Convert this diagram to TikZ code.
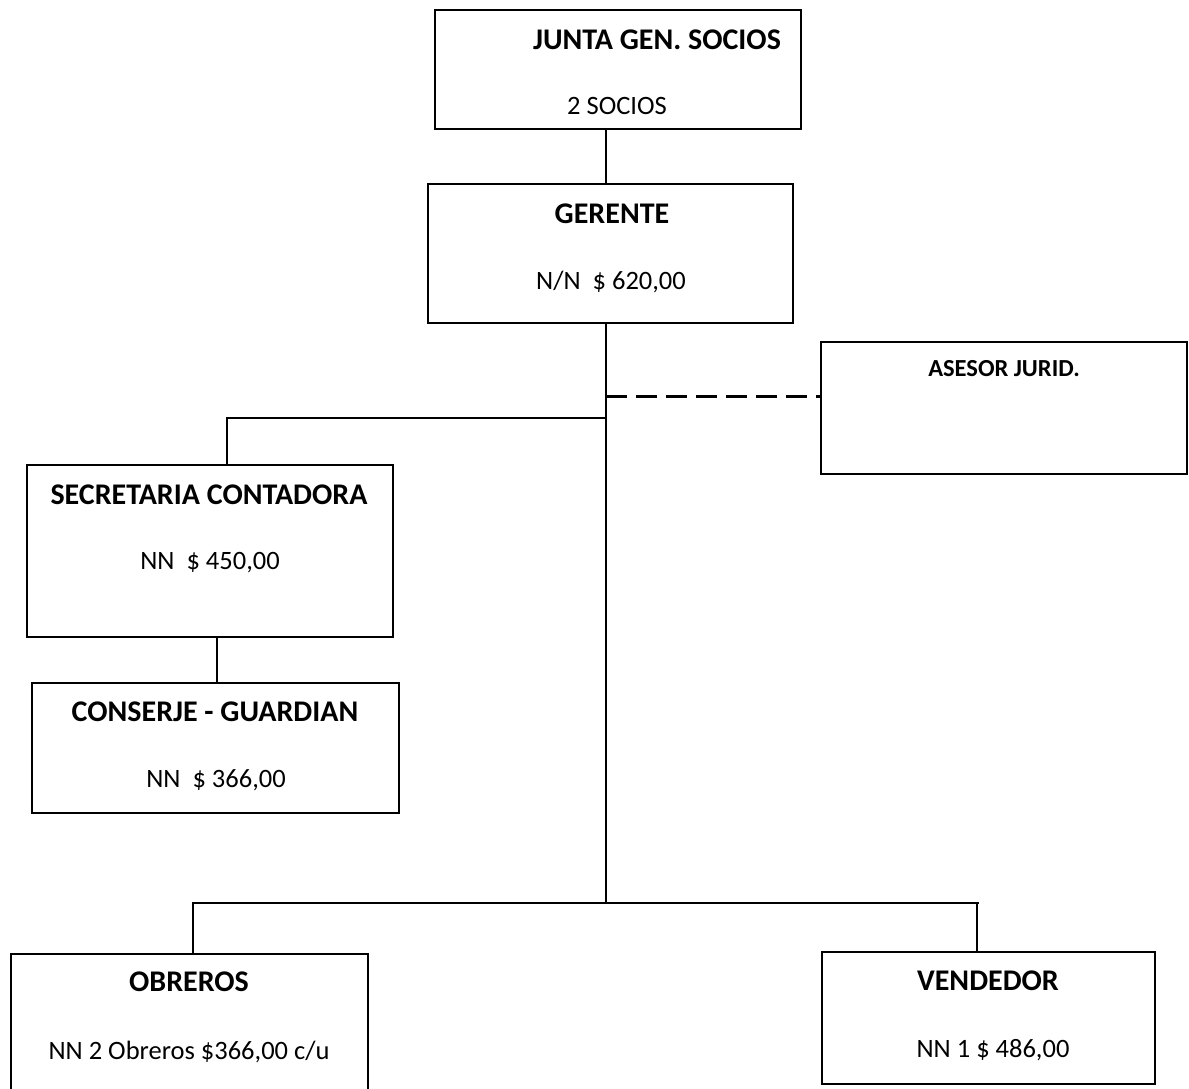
\documentclass[tikz,border=0pt]{standalone}
\usepackage{fontspec}
\setmainfont{Carlito}
\begin{document}
\begin{tikzpicture}[x=1pt,y=-1pt,
  box/.style={draw=black,line width=2.4pt,rectangle,inner sep=0pt},
  conn/.style={draw=black,line width=1.7pt},
  dashconn/.style={draw=black,line width=3pt,dash pattern=on 21pt off 9pt},
  ttl/.style={font=\fontsize{30}{34}\selectfont\bfseries,anchor=base,inner sep=0pt},
  txt/.style={font=\fontsize{26.5}{30}\selectfont,anchor=base,inner sep=0pt},
  sttl/.style={font=\fontsize{24.5}{28}\selectfont\bfseries,anchor=base,inner sep=0pt}]
\useasboundingbox (0,0) rectangle (1189,1088);
\clip (0,0) rectangle (1189,1088);
\fill[white] (0,0) rectangle (1189,1088);
% boxes
\node[box,minimum width=366pt,minimum height=119pt] (junta) at (618,69.5) {};
\node[box,minimum width=365pt,minimum height=139pt] (gerente) at (610.5,253.5) {};
\node[box,minimum width=366pt,minimum height=132pt] (asesor) at (1004,408) {};
\node[box,minimum width=366pt,minimum height=172pt] (secre) at (210,551) {};
\node[box,minimum width=367pt,minimum height=130pt] (conserje) at (215.5,748) {};
\node[box,minimum width=357pt,minimum height=146pt] (obreros) at (189.5,1027) {};
\node[box,minimum width=333pt,minimum height=132pt] (vendedor) at (988.5,1018) {};
% texts
\node[ttl] (t1) at (657,49) {JUNTA GEN. SOCIOS};
\node[txt] (t1b) at (617,114) {2 SOCIOS};
\node[ttl] (t2) at (612,223) {GERENTE};
\node[txt] (t2b) at (611,289) {N/N\ \ \$ 620,00};
\node[sttl] (t3) at (1004,376) {ASESOR JURID.};
\node[ttl] (t4) at (209,504) {SECRETARIA CONTADORA};
\node[txt] (t4b) at (210,569) {NN\ \ \$ 450,00};
\node[ttl] (t5) at (215,721) {CONSERJE - GUARDIAN};
\node[txt] (t5b) at (216,787) {NN\ \ \$ 366,00};
\node[ttl] (t6) at (189,991) {OBREROS};
\node[txt] (t6b) at (189,1059) {NN 2 Obreros \$366,00 c/u};
\node[ttl] (t7) at (988,990) {VENDEDOR};
\node[txt] (t7b) at (993,1057) {NN 1 \$ 486,00};
% connector coordinates
\coordinate (trunk) at (606,0);
\coordinate (sj) at (607,418);
\coordinate (dj) at (606,396);
\coordinate (bb) at (606,903);
\coordinate (bbR) at (979,903);
\coordinate (cs) at (227,0);
\coordinate (cc) at (217,0);
\coordinate (co) at (193,0);
\coordinate (cv) at (977,0);
% connectors
\draw[conn] (junta.south -| trunk) -- (gerente.north -| trunk);
\draw[conn] (gerente.south -| trunk) -- (bb);
\draw[conn] (sj) -- (sj -| cs) -- (secre.north -| cs);
\draw[dashconn] (dj) -- (dj -| asesor.west);
\draw[conn] (secre.south -| cc) -- (conserje.north -| cc);
\draw[conn] (obreros.north -| co) -- (bb -| co) -- (bbR);
\draw[conn] (bb -| cv) -- (vendedor.north -| cv);
\end{tikzpicture}
\end{document}
